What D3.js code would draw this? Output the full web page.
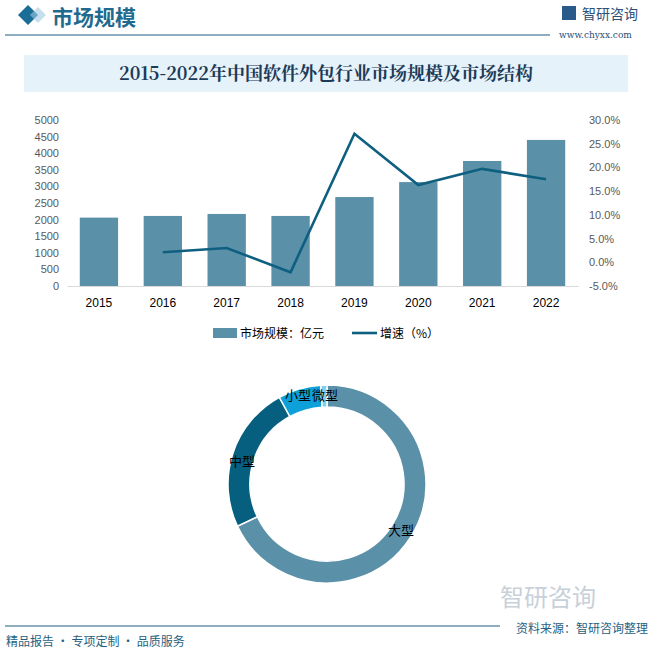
<!DOCTYPE html>
<html><head><meta charset="utf-8">
<script src="https://cdn.jsdelivr.net/npm/d3@7"></script>
<style>body{margin:0;background:#fff}svg{display:block}</style>
</head><body><svg id="c" width="653" height="655"></svg>
<script>
const years=["2015","2016","2017","2018","2019","2020","2021","2022"];
const marketSize=[2060,2110,2170,2110,2680,3130,3765,4400];
const growth=[null,2.1,3.0,-2.1,27.1,16.3,19.7,17.5];
const leftTicks=[0,500,1000,1500,2000,2500,3000,3500,4000,4500,5000];
const rightTicks=[-5,0,5,10,15,20,25,30];
const segNames=["大型","中型","小型","微型"];
const segShares=[68,24,7,1];
const segColors=["#5b91a8","#075f80","#0ea0d8","#7fd0f0"];

const svg=d3.select("#c");
const font="'Noto Sans CJK SC','Noto Sans',sans-serif";
// header
svg.append("path").attr("d","M18,15 L28,5 L38,15 L28,25Z").attr("fill","#1a6d96");
svg.append("path").attr("d","M30,15 L38,7 L46,15 L38,23Z").attr("fill","#9fc9e0").attr("opacity",0.6);
svg.append("text").attr("x",52).attr("y",25).text("市场规模").attr("font-family",font).attr("font-size",21).attr("font-weight","bold").attr("fill","#1f6a8e");
svg.append("line").attr("x1",5).attr("x2",550).attr("y1",35).attr("y2",35).attr("stroke","#1f5f80").attr("stroke-width",1.2);
svg.append("rect").attr("x",562).attr("y",6).attr("width",14).attr("height",14).attr("fill","#2a5a8a");
svg.append("text").attr("x",582).attr("y",19).text("智研咨询").attr("font-family",font).attr("font-size",14).attr("fill","#2a4f7a");
svg.append("text").attr("x",559).attr("y",38).text("www.chyxx.com").attr("font-family","'DejaVu Serif',serif").attr("font-size",9).attr("fill","#2a4f7a");
svg.append("rect").attr("x",24).attr("y",55).attr("width",604).attr("height",37).attr("fill","#e6f2fa");
svg.append("text").attr("x",326).attr("y",80).attr("text-anchor","middle").text("2015-2022年中国软件外包行业市场规模及市场结构").attr("font-family","'Noto Serif CJK SC','Noto Sans CJK SC',serif").attr("font-size",18).attr("font-weight","bold").attr("fill","#1d3a56");

// chart
const x=d3.scaleBand().domain(years).range([67,578]).paddingInner(0.4).paddingOuter(0.2);
const yL=d3.scaleLinear().domain([0,5000]).range([286,120]);
const yR=d3.scaleLinear().domain([-5,30]).range([286,120]);
svg.append("g").selectAll("rect").data(years).join("rect")
 .attr("x",d=>x(d)).attr("width",x.bandwidth()).attr("y",(d,i)=>yL(marketSize[i])).attr("height",(d,i)=>286-yL(marketSize[i])).attr("fill","#5b91a8");
const gl=svg.append("g").attr("transform","translate(62,0)").call(d3.axisLeft(yL).tickValues(leftTicks).tickSize(0).tickFormat(d3.format("d")));
gl.select(".domain").remove();
gl.selectAll("text").attr("font-family","'Liberation Sans',Arial").attr("font-size",11).attr("fill","#595959");
const gr=svg.append("g").attr("transform","translate(586,0)").call(d3.axisRight(yR).tickValues(rightTicks).tickSize(0).tickFormat(d=>d.toFixed(1)+"%"));
gr.select(".domain").remove();
gr.selectAll("text").attr("font-family","'Liberation Sans',Arial").attr("font-size",11).attr("fill","#595959");
const gx=svg.append("g").attr("transform","translate(0,286)").call(d3.axisBottom(x).tickSize(0).tickPadding(12));
gx.select(".domain").attr("stroke","#d9d9d9");
gx.selectAll("text").attr("font-family","'Liberation Sans',Arial").attr("font-size",12).attr("fill","#000");
const pts=years.map((y,i)=>[y,growth[i]]).filter(d=>d[1]!==null);
svg.append("path").datum(pts).attr("fill","none").attr("stroke","#0e5f80").attr("stroke-width",2.6)
 .attr("d",d3.line().x(d=>x(d[0])+x.bandwidth()/2).y(d=>yR(d[1])));
// legend
svg.append("rect").attr("x",213).attr("y",328).attr("width",24).attr("height",10).attr("fill","#5b91a8");
svg.append("text").attr("x",240).attr("y",338).text("市场规模：亿元").attr("font-family",font).attr("font-size",12).attr("fill","#000");
svg.append("line").attr("x1",352).attr("x2",377).attr("y1",333).attr("y2",333).attr("stroke","#0e5f80").attr("stroke-width",2.6);
svg.append("text").attr("x",380).attr("y",338).text("增速（%）").attr("font-family",font).attr("font-size",12).attr("fill","#000");

// donut
const pie=d3.pie().sort(null).value(d=>d)(segShares);
const arc=d3.arc().innerRadius(77).outerRadius(99);
const g=svg.append("g").attr("transform","translate(327,484)");
g.selectAll("path").data(pie).join("path").attr("d",arc).attr("fill",(d,i)=>segColors[i]).attr("stroke","#fff").attr("stroke-width",1.5);
const lab=[[61,51],[-98,-18],[-42,-84],[-15,-84]];
g.selectAll("text").data(segNames).join("text").attr("x",(d,i)=>lab[i][0]).attr("y",(d,i)=>lab[i][1]).text(d=>d).attr("font-family",font).attr("font-size",13).attr("fill","#000");

// footer
svg.append("line").attr("x1",5).attr("x2",500).attr("y1",626).attr("y2",626).attr("stroke","#1f5f80").attr("stroke-width",1.2);
svg.append("text").attr("x",6).attr("y",646).text("精品报告 · 专项定制 · 品质服务").attr("font-family",font).attr("font-size",12).attr("fill","#1f5f80");
svg.append("text").attr("x",500).attr("y",606).text("智研咨询").attr("font-family",font).attr("font-size",24).attr("fill","#c8d0d8");
svg.append("text").attr("x",648).attr("y",633).attr("text-anchor","end").text("资料来源：智研咨询整理").attr("font-family",font).attr("font-size",12).attr("fill","#1f5f80");
</script></body></html>
